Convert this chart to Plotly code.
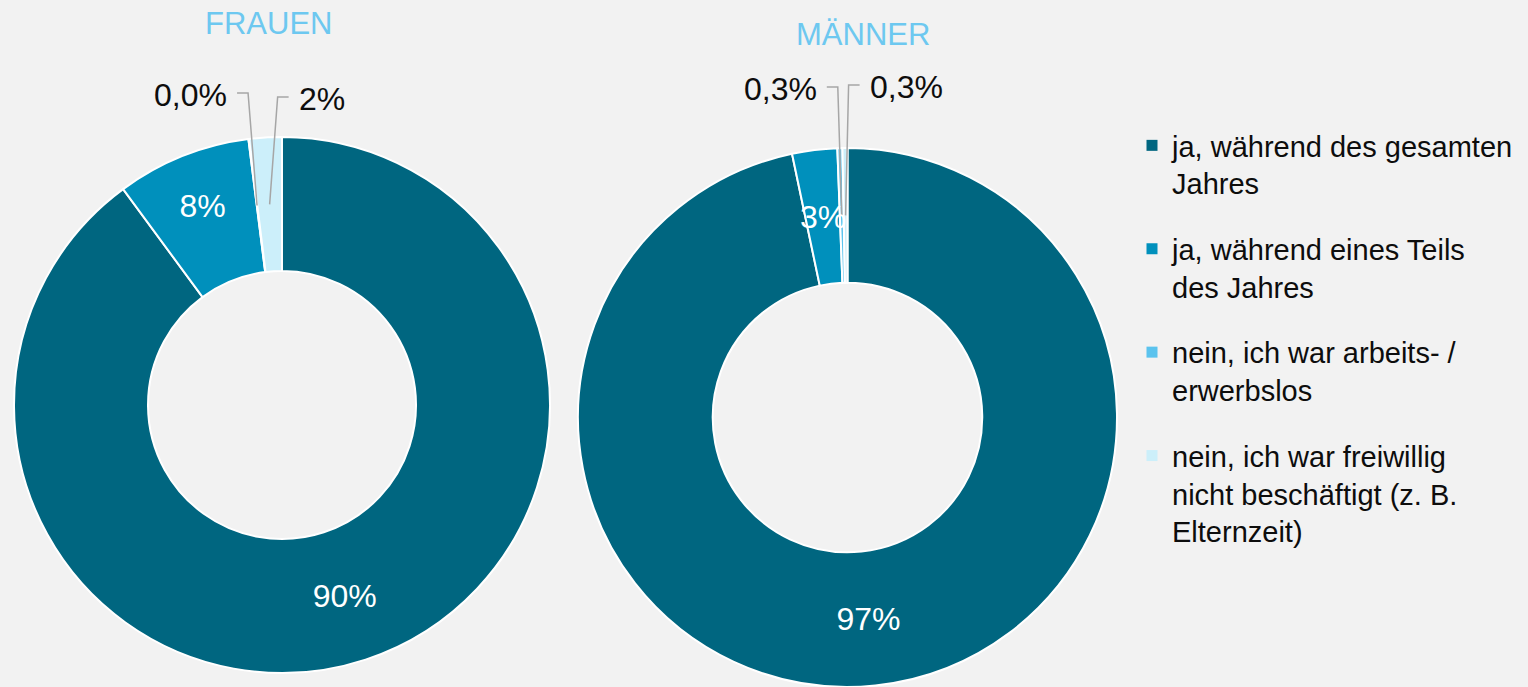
import math
import plotly.graph_objects as go

W, H = 1528, 687

# ---------------- data ----------------
categories = [
    "ja, während des gesamten<br>Jahres",
    "ja, während eines Teils<br>des Jahres",
    "nein, ich war arbeits- /<br>erwerbslos",
    "nein, ich war freiwillig<br>nicht beschäftigt (z. B.<br>Elternzeit)",
]
groups = ["FRAUEN", "MÄNNER"]
frauen = [89.9, 8.1, 0.04, 1.96]
maenner = [96.7, 2.7, 0.3, 0.3]
series = [frauen, maenner]

# ---------------- style ----------------
colors = ["#006680", "#0090BC", "#5BC3EE", "#CCEFFA"]
FONT = "Liberation Sans, Arial, sans-serif"
BG = "#F2F2F2"
HOLE = 0.5
outside_slices = [2, 3]        # labelled outside with leader lines
FIT_SHARE = 5.0                # smaller slices: label drawn as overlay at mid-ring

# pie boxes in pixels (left, top, right, bottom)
boxes = [(14, 137, 550, 673), (578, 148, 1117, 687)]
title_pos = [(268, 24), (863, 35)]
# outside label leader specs per pie: slice index -> (elbow dx, elbow y, side)
leader_specs = [
    {2: (-9, 93, -1), 3: (8, 97, 1)},
    {2: (-4, 87, -1), 3: (3, 85, 1)},
]


def fmt(v):
    if v < 1:
        return f"{v:.1f}".replace(".", ",") + "%"
    return f"{round(v)}%"


def px(x, y):
    return x / W, 1 - y / H


fig = go.Figure()
shapes = []
annotations = []

for gi, (name, vals) in enumerate(zip(groups, series)):
    l, t, r, b = boxes[gi]
    x0, y1 = px(l, t)
    x1, y0 = px(r, b)
    labels = [fmt(v) for v in vals]
    total = sum(vals)
    textpos = []
    for si, v in enumerate(vals):
        if si in outside_slices or 100 * v / total < FIT_SHARE:
            textpos.append("none")
        else:
            textpos.append("inside")
    fig.add_trace(go.Pie(
        labels=categories,
        values=vals,
        text=labels,
        textinfo="text",
        textposition=textpos,
        insidetextorientation="horizontal",
        insidetextfont=dict(color="white", size=32, family=FONT),
        hole=HOLE,
        sort=False,
        direction="clockwise",
        rotation=0,
        marker=dict(colors=colors, line=dict(color="white", width=2)),
        domain=dict(x=[x0, x1], y=[max(y0, 0), min(y1, 1)]),
        showlegend=False,
        name=name,
    ))

    # geometry for labels not drawn by the pie itself
    cx = (l + r) / 2
    cy = (t + b) / 2
    R = min(r - l, b - t) / 2
    rmid = R * (1 + HOLE) / 2
    cum = 0
    for si, v in enumerate(vals):
        theta = 2 * math.pi * (cum + v / 2) / total
        cum += v
        ex = cx + rmid * math.sin(theta)
        ey = cy - rmid * math.cos(theta)
        if si in leader_specs[gi]:
            dx, ely, side = leader_specs[gi][si]
            elx = ex + dx
            hx = elx + side * 11
            p1 = px(ex, ey)
            p2 = px(elx, ely)
            p3 = px(hx, ely)
            shapes.append(dict(
                type="path", xref="paper", yref="paper",
                path=f"M {p1[0]} {p1[1]} L {p2[0]} {p2[1]} L {p3[0]} {p3[1]}",
                line=dict(color="#A6A6A6", width=1.5),
            ))
            lx, ly = px(hx + side * 8, ely + 2)
            annotations.append(dict(
                x=lx, y=ly, xref="paper", yref="paper", showarrow=False,
                text=labels[si], xanchor="right" if side < 0 else "left",
                yanchor="middle",
                font=dict(size=32, color="#0D0D0D", family=FONT),
            ))
        elif textpos[si] == "none":
            lx, ly = px(ex, ey)
            annotations.append(dict(
                x=lx, y=ly, xref="paper", yref="paper", showarrow=False,
                text=labels[si], xanchor="center", yanchor="middle",
                font=dict(size=32, color="white", family=FONT),
            ))

    tx, ty = px(*title_pos[gi])
    annotations.append(dict(
        x=tx, y=ty, xref="paper", yref="paper", showarrow=False,
        text=name, xanchor="center", yanchor="middle",
        font=dict(size=31, color="#6DC8F0", family=FONT),
    ))

# legend entries
for i, (cat, c) in enumerate(zip(categories, colors)):
    fig.add_trace(go.Scatter(
        x=[None], y=[None], mode="markers",
        marker=dict(symbol="square", size=11, color=c),
        name=cat, legendgroup=f"g{i}", showlegend=True,
        hoverinfo="skip",
    ))

lgx, lgy = px(1132, 120)
fig.update_layout(
    width=W, height=H,
    paper_bgcolor=BG, plot_bgcolor=BG,
    margin=dict(l=0, r=0, t=0, b=0),
    font=dict(family=FONT, color="#0D0D0D"),
    xaxis=dict(visible=False),
    yaxis=dict(visible=False),
    uniformtext=dict(minsize=32, mode="show"),
    legend=dict(
        x=lgx, y=lgy, xanchor="left", yanchor="top",
        font=dict(size=29, family=FONT, color="#0D0D0D"),
        tracegroupgap=25, valign="top", bgcolor="rgba(0,0,0,0)",
        itemwidth=30,
    ),
    shapes=shapes,
    annotations=annotations,
)

fig.write_html(
    "out.html",
    config={"displayModeBar": False},
    post_script="document.body.style.margin='0';document.body.style.overflow='hidden';",
)
